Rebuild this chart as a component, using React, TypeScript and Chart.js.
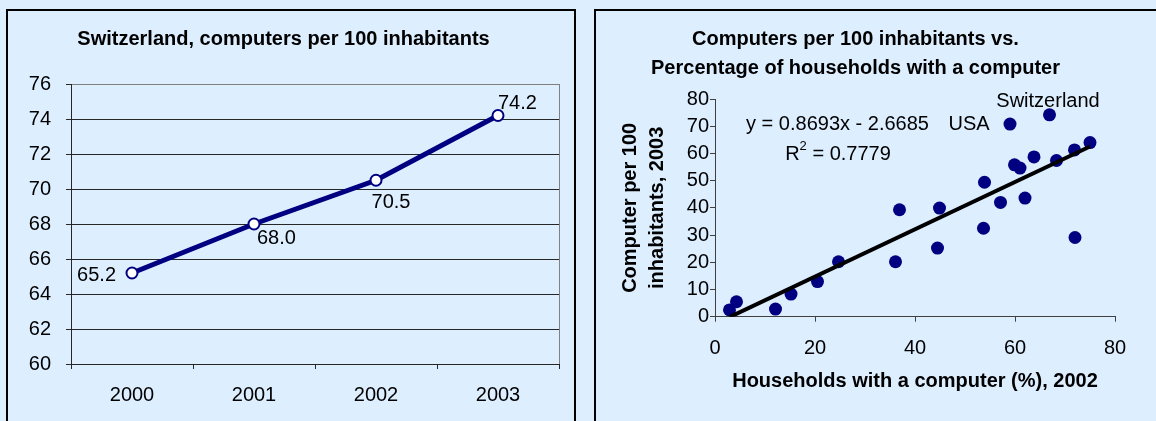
import React, { useEffect, useRef } from 'react';
import { Chart, registerables } from 'chart.js';

Chart.register(...registerables);

const FONT_FAMILY = "'Liberation Sans', Arial, Helvetica, sans-serif";
const BG = '#ddeeff';
const NAVY = '#000080';
const AXIS_DARK = '#262626';
const AXIS_GRAY = '#808080';
const TEXT_SIZE = 20;

// ---------- Left chart: Switzerland, computers per 100 inhabitants ----------
const years = ['2000', '2001', '2002', '2003'];
const computersPer100 = [65.2, 68.0, 70.5, 74.2];
const lineYMin = 60;
const lineYMax = 76;
const lineYStep = 2;
const valueLabelSides = ['left', 'belowRight', 'below', 'aboveRight'];

// ---------- Right chart: computers per 100 inhabitants vs households ----------
const householdsPct2002 = [
  2.9, 4.3, 12.1, 15.2, 20.5, 24.7, 36.1, 36.9, 44.5, 44.9, 53.7, 53.9,
  57.1, 59.0, 59.9, 61.0, 62.0, 63.8, 66.9, 68.3, 71.9, 72.0, 75.0,
];
const computersPer100In2003 = [
  2.5, 5.5, 2.8, 8.3, 12.9, 20.2, 20.2, 39.3, 25.2, 39.9, 32.5, 49.4,
  42.0, 70.8, 55.8, 54.6, 43.6, 58.7, 74.2, 57.4, 61.3, 29.1, 64.0,
];
const trendSlope = 0.8693;
const trendIntercept = -2.6685;
const equationText = 'y = 0.8693x - 2.6685';
const rSquaredValue = '0.7779';
const countryNames = ['Switzerland', 'USA'];
const countryNameX = [66.6, 50.8];
const countryNameY = [79.1, 70.6];
const equationAt = [24.5, 70.6];
const rSquaredAt = [24.6, 59.5];

Chart.defaults.font.family = FONT_FAMILY;
Chart.defaults.color = '#000';

const font = (size: number, bold = false) => `${bold ? 'bold ' : ''}${size}px ${FONT_FAMILY}`;

const lineValueLabels = {
  id: 'lineValueLabels',
  afterDatasetsDraw(chart: any) {
    const { ctx } = chart;
    const meta = chart.getDatasetMeta(0);
    ctx.save();
    ctx.font = font(TEXT_SIZE);
    ctx.fillStyle = '#000';
    ctx.textBaseline = 'middle';
    meta.data.forEach((pt: any, i: number) => {
      const text = computersPer100[i].toFixed(1);
      let x = pt.x;
      let y = pt.y;
      let align: CanvasTextAlign = 'left';
      switch (valueLabelSides[i]) {
        case 'left':
          x -= 16; y += 2; align = 'right'; break;
        case 'belowRight':
          x += 3; y += 14; align = 'left'; break;
        case 'below':
          x += 15; y += 22; align = 'center'; break;
        case 'aboveRight':
          x += 0; y -= 12; align = 'left'; break;
      }
      ctx.textAlign = align;
      ctx.fillText(text, x, y);
    });
    ctx.restore();
  },
};

const scatterTexts = {
  id: 'scatterTexts',
  afterDatasetsDraw(chart: any) {
    const { ctx } = chart;
    const xs = chart.scales.x;
    const ys = chart.scales.y;
    ctx.save();
    ctx.fillStyle = '#000';
    ctx.font = font(TEXT_SIZE);
    ctx.textBaseline = 'middle';
    ctx.textAlign = 'center';
    countryNames.forEach((t, i) => {
      ctx.fillText(t, xs.getPixelForValue(countryNameX[i]), ys.getPixelForValue(countryNameY[i]));
    });
    ctx.fillText(equationText, xs.getPixelForValue(equationAt[0]), ys.getPixelForValue(equationAt[1]));
    // R² = value
    const cx = xs.getPixelForValue(rSquaredAt[0]);
    const cy = ys.getPixelForValue(rSquaredAt[1]);
    const rest = ' = ' + rSquaredValue;
    ctx.font = font(TEXT_SIZE);
    const wR = ctx.measureText('R').width;
    const wRest = ctx.measureText(rest).width;
    ctx.font = font(13);
    const w2 = ctx.measureText('2').width;
    let sx = cx - (wR + w2 + wRest) / 2;
    ctx.textAlign = 'left';
    ctx.font = font(TEXT_SIZE);
    ctx.fillText('R', sx, cy);
    sx += wR;
    ctx.font = font(13);
    ctx.fillText('2', sx, cy - 8);
    sx += w2;
    ctx.font = font(TEXT_SIZE);
    ctx.fillText(rest, sx, cy);
    ctx.restore();
  },
};

function LineChart() {
  const ref = useRef<HTMLCanvasElement>(null);
  useEffect(() => {
    const chart = new Chart(ref.current as HTMLCanvasElement, {
      type: 'line',
      data: {
        labels: years,
        datasets: [
          {
            data: computersPer100,
            borderColor: NAVY,
            borderWidth: 5,
            pointRadius: 5.5,
            pointBorderWidth: 2,
            pointBackgroundColor: '#fff',
            pointBorderColor: NAVY,
            tension: 0,
          },
        ],
      },
      options: {
        responsive: false,
        animation: false,
        layout: { padding: { left: 0, right: 15, top: 0, bottom: 0 } },
        plugins: {
          legend: { display: false },
          tooltip: { enabled: false },
          title: {
            display: true,
            text: 'Switzerland, computers per 100 inhabitants',
            color: '#000',
            font: { size: TEXT_SIZE, weight: 'bold', lineHeight: 1.2 },
            padding: { top: 16.5, bottom: 32.5 },
          },
        },
        scales: {
          x: {
            type: 'category',
            offset: true,
            afterFit: (s: any) => { s.height = 57; },
            grid: {
              offset: true,
              drawOnChartArea: true,
              drawTicks: true,
              tickLength: 5,
              color: (c: any) => (c.type === 'scale' ? AXIS_GRAY : 'rgba(0,0,0,0)'),
              tickColor: AXIS_DARK,
            },
            border: { display: true, color: AXIS_DARK, width: 1 },
            ticks: { font: { size: TEXT_SIZE }, color: '#000', padding: 14 },
          },
          y: {
            min: lineYMin,
            max: lineYMax,
            afterFit: (s: any) => { s.width = 63; },
            grid: {
              drawTicks: true,
              tickLength: 5,
              color: (c: any) => (c.tick && c.tick.value === lineYMax ? AXIS_GRAY : AXIS_DARK),
              tickColor: AXIS_DARK,
            },
            border: { display: true, color: AXIS_DARK, width: 1 },
            ticks: { stepSize: lineYStep, font: { size: TEXT_SIZE }, color: '#000', padding: 15 },
          },
        },
      },
      plugins: [lineValueLabels],
    } as any);
    return () => chart.destroy();
  }, []);
  return <canvas ref={ref} width={566} height={410} style={{ display: 'block' }} />;
}

function ScatterChart() {
  const ref = useRef<HTMLCanvasElement>(null);
  useEffect(() => {
    const xMin = Math.min(...householdsPct2002);
    const xMax = Math.max(...householdsPct2002);
    const trend = [
      { x: xMin, y: trendSlope * xMin + trendIntercept },
      { x: xMax, y: trendSlope * xMax + trendIntercept },
    ];
    const points = householdsPct2002.map((x, i) => ({ x, y: computersPer100In2003[i] }));
    const chart = new Chart(ref.current as HTMLCanvasElement, {
      type: 'scatter',
      data: {
        datasets: [
          {
            type: 'line',
            data: trend,
            borderColor: '#000',
            borderWidth: 4,
            pointRadius: 0,
            showLine: true,
            order: 0,
          },
          {
            data: points,
            backgroundColor: NAVY,
            borderWidth: 0,
            pointRadius: 6.5,
            order: 1,
          },
        ],
      },
      options: {
        responsive: false,
        animation: false,
        layout: { padding: { left: 0, right: 123, top: 0, bottom: 0 } },
        plugins: {
          legend: { display: false },
          tooltip: { enabled: false },
          title: {
            display: true,
            text: ['Computers per 100 inhabitants vs.', 'Percentage of households with a computer'],
            color: '#000',
            font: { size: TEXT_SIZE, weight: 'bold', lineHeight: 1.45 },
            padding: { top: 14, bottom: 16 },
          },
        },
        scales: {
          x: {
            type: 'linear',
            min: 0,
            max: 80,
            afterFit: (s: any) => { s.height = 104.3; },
            grid: { drawOnChartArea: false, drawTicks: true, tickLength: 5, tickColor: '#404040' },
            border: { display: true, color: '#404040', width: 1 },
            ticks: { stepSize: 20, font: { size: TEXT_SIZE }, color: '#000', padding: 15 },
            title: {
              display: true,
              text: 'Households with a computer (%), 2002',
              color: '#000',
              font: { size: TEXT_SIZE, weight: 'bold', lineHeight: 1.2 },
              padding: { top: 0, bottom: 28 },
            },
          },
          y: {
            type: 'linear',
            min: 0,
            max: 80,
            afterFit: (s: any) => { s.width = 119; },
            grid: { drawOnChartArea: false, drawTicks: true, tickLength: 5, tickColor: '#404040' },
            border: { display: true, color: '#404040', width: 1 },
            ticks: { stepSize: 10, font: { size: TEXT_SIZE }, color: '#000', padding: 1 },
            title: {
              display: true,
              text: ['Computer per 100', 'inhabitants, 2003'],
              color: '#000',
              font: { size: TEXT_SIZE, weight: 'bold', lineHeight: 1.35 },
              padding: { top: 20.5, bottom: 0 },
            },
          },
        },
      },
      plugins: [scatterTexts],
    } as any);
    return () => chart.destroy();
  }, []);
  return <canvas ref={ref} width={642} height={410} style={{ display: 'block' }} />;
}

export default function App() {
  const panel = (left: number, width: number): React.CSSProperties => ({
    position: 'absolute',
    left,
    top: 9,
    width,
    height: 420,
    border: '2px solid #000',
    background: BG,
    overflow: 'hidden',
  });
  return (
    <div
      style={{
        position: 'fixed',
        left: 0,
        top: 0,
        width: 1156,
        height: 421,
        background: BG,
        overflow: 'hidden',
      }}
    >
      <div style={panel(6, 566)}>
        <LineChart />
      </div>
      <div style={panel(594, 642)}>
        <ScatterChart />
      </div>
    </div>
  );
}
